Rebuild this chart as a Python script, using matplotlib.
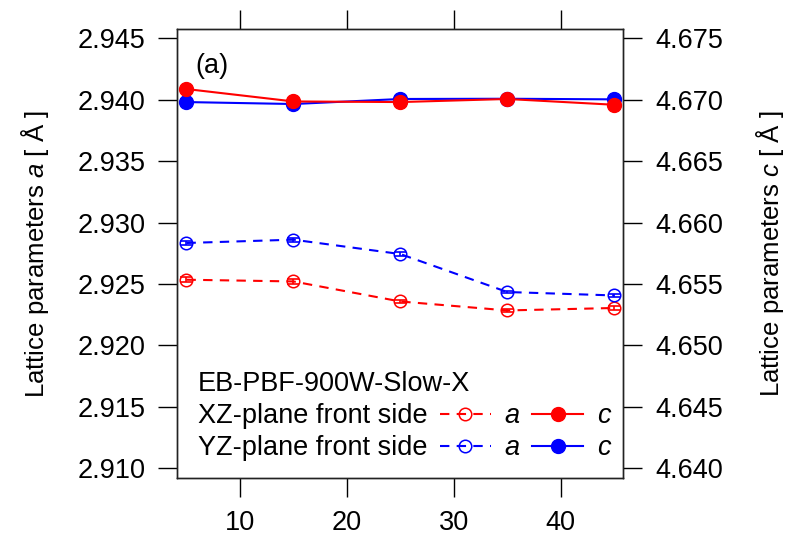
import matplotlib
matplotlib.use('Agg')
import matplotlib.pyplot as plt
import numpy as np

plt.rcParams['font.family'] = ['Liberation Sans', 'DejaVu Sans']
plt.rcParams['mathtext.fontset'] = 'custom'
plt.rcParams['mathtext.rm'] = 'Liberation Sans'
plt.rcParams['mathtext.it'] = 'Liberation Sans:italic'

# distance from the build plate (x) and lattice parameters
pos = [5, 15, 25, 35, 45]
xz_a = [2.92535, 2.92521, 2.92358, 2.92285, 2.92305]
yz_a = [2.92834, 2.92861, 2.92744, 2.92435, 2.92407]
xz_c = [4.67087, 4.66986, 4.66981, 4.67006, 4.66959]
yz_c = [4.66981, 4.66965, 4.67006, 4.67008, 4.67003]
xz_a_err = [0.00020, 0.00018, 0.00015, 0.00015, 0.00015]
yz_a_err = [0.00018, 0.00015, 0.00015, 0.00012, 0.00012]
xz_c_err = [0.00020, 0.00018, 0.00015, 0.00015, 0.00015]
yz_c_err = [0.00025, 0.00022, 0.00020, 0.00015, 0.00015]

sample = 'EB-PBF-900W-Slow-X'
planes = ['XZ-plane front side', 'YZ-plane front side']
fs = 19.5

fig = plt.figure(figsize=(7.9, 5.38), dpi=100)
ax = fig.add_axes([0.2244, 0.1110, 0.5646, 0.8345])
ax2 = ax.twinx()

ylo, yhi = 2.90919, 2.94573
off = 1.730
ax.set_xlim(4.14, 45.85)
ax.set_ylim(ylo, yhi)
ax2.set_ylim(ylo + off, yhi + off)

dash = (0, (4.5, 3.5))
ha = []
for vals, err, col in [(xz_a, xz_a_err, 'red'), (yz_a, yz_a_err, 'blue')]:
    ax.errorbar(pos, vals, yerr=err, color=col, ecolor=col, elinewidth=1.2,
                capsize=4, capthick=1.2, linestyle='none', zorder=3)
    h, = ax.plot(pos, vals, color=col, linestyle=dash, lw=1.5, marker='o',
                 ms=9, mfc='none', mec=col, mew=1.1, zorder=4)
    ha.append(h)

hc = []
for vals, err, col in [(yz_c, yz_c_err, 'blue'), (xz_c, xz_c_err, 'red')]:
    ax2.errorbar(pos, vals, yerr=err, color=col, ecolor=col, elinewidth=1.2,
                 capsize=4, capthick=1.2, linestyle='none', zorder=3)
    h, = ax2.plot(pos, vals, color=col, linestyle='-', lw=1.5, marker='o',
                  ms=10, mfc=col, mec=col, zorder=4)
    hc.append(h)
hc = hc[::-1]

for a in (ax, ax2):
    for sp in a.spines.values():
        sp.set_linewidth(1.0)
        sp.set_color('#222222')

ax.set_xticks([10, 20, 30, 40])
ax.set_yticks(np.arange(2.910, 2.9451, 0.005))
ax.set_yticklabels(['%.3f' % v for v in np.arange(2.910, 2.9451, 0.005)])
ax2.set_yticks(np.arange(4.640, 4.6751, 0.005))
ax2.set_yticklabels(['%.3f' % v for v in np.arange(4.640, 4.6751, 0.005)])
ax.tick_params(axis='both', direction='out', length=14, width=1.0,
               labelsize=fs, pad=9, top=True, labeltop=False)
ax.tick_params(axis='x', pad=9)
ax2.tick_params(axis='y', direction='out', length=14, width=1.0,
                labelsize=fs, pad=9)

lfs = 18.5
ax.set_ylabel(r'Lattice parameters $\it{a}$ [ Å ]', fontsize=lfs, labelpad=19)
ax2.set_ylabel(r'Lattice parameters $\it{c}$ [ Å ]', fontsize=lfs, labelpad=22)

ax.text(0.04, 0.918, '(a)', transform=ax.transAxes, fontsize=fs,
        va='center', ha='left')

# legend block: header line, then one row per plane
ax2.text(0.046, 0.209, sample, transform=ax.transAxes, fontsize=fs,
         va='center', ha='left')
rows_y = [0.138, 0.067]
for i, name in enumerate(planes):
    ax2.text(0.046, rows_y[i], name, transform=ax.transAxes, fontsize=fs,
             va='center', ha='left')
    leg = ax2.legend([ha[i], hc[i]], ['a', 'c'], ncol=2, frameon=False,
                     loc='center left', bbox_to_anchor=(0.588, rows_y[i]),
                     bbox_transform=ax.transAxes,
                     prop={'family': 'Liberation Sans', 'style': 'italic',
                           'size': fs},
                     handlelength=1.9, handletextpad=0.5, columnspacing=0.45,
                     borderpad=0, borderaxespad=0)
    if i == 0:
        ax2.add_artist(leg)

fig.savefig('out.png', dpi=100)
